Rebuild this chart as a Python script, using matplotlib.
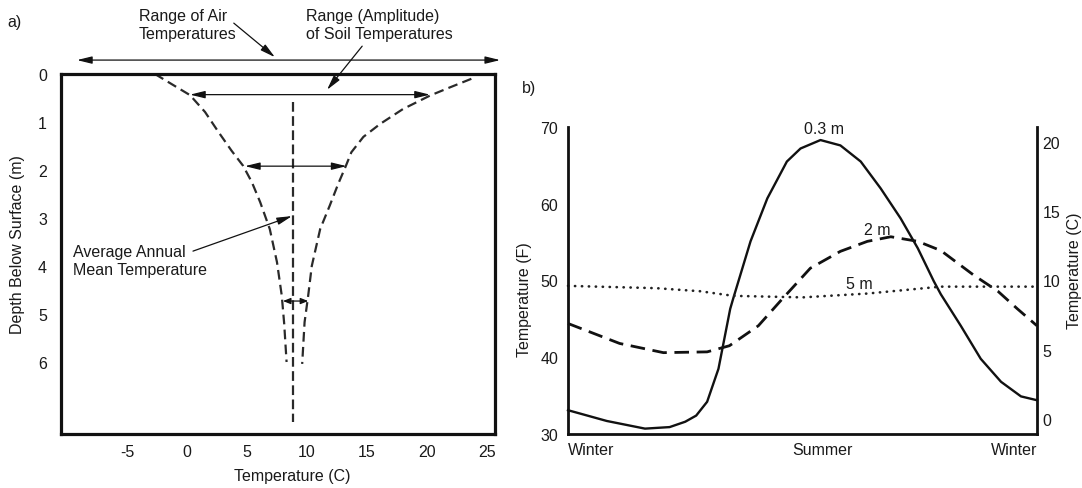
import matplotlib
matplotlib.use("Agg")
import matplotlib.pyplot as plt

plt.rcParams['font.family'] = ['Liberation Sans', 'DejaVu Sans']
plt.rcParams['lines.scale_dashes'] = False

W, H = 1082, 489

# ---------------- Panel a data (depth m, temperature C) ----------------
left_depth = [0.0, 0.21, 0.44, 0.79, 1.2, 1.6, 1.91, 2.25, 2.67, 3.23, 3.92,
              4.62, 5.2, 6.0]
left_temp = [-2.67, -1.28, 0.25, 1.5, 2.6, 3.72, 4.67, 5.4, 6.1, 6.9, 7.5,
             7.9, 8.1, 8.3]
right_depth = [0.1, 0.28, 0.45, 0.73, 1.04, 1.31, 1.63, 1.94, 2.29, 2.74, 3.23,
               4.0, 4.62, 5.17, 6.04]
right_temp = [23.7, 21.9, 20.25, 18.0, 16.1, 14.7, 13.7, 13.2, 12.6, 11.9,
              11.1, 10.4, 10.1, 9.8, 9.6]
mean_temp = 8.85
mean_depth = [0.59, 7.25]
a_xticks = [-5, 0, 5, 10, 15, 20, 25]
a_yticks = [0, 1, 2, 3, 4, 5, 6]

# ---------------- Panel b data (season index, temperature F) ----------------
t_03 = [0, 0.99, 1.97, 2.6, 3.0, 3.28, 3.56, 3.85, 4.15, 4.23, 4.67, 5.1, 5.6,
        5.95, 6.46, 6.97, 7.49, 8.0, 8.51, 8.95, 9.36, 9.54, 10.05, 10.56,
        11.08, 11.59, 12]
f_03 = [33.1, 31.7, 30.7, 30.9, 31.6, 32.4, 34.2, 38.5, 46.3, 47.7, 55.1, 60.7,
        65.5, 67.2, 68.3, 67.6, 65.5, 62.0, 58.1, 54.2, 49.9, 48.2, 44.1, 39.8,
        36.8, 34.9, 34.4]
t_2 = [0, 1.32, 2.44, 3.56, 4.13, 4.87, 5.43, 6.2, 6.97, 7.66, 8.26, 8.95,
       9.54, 10.38, 11.0, 11.5, 12]
f_2 = [44.4, 41.8, 40.6, 40.7, 41.5, 44.1, 47.3, 51.6, 53.8, 55.1, 55.7, 55.1,
       53.9, 50.7, 48.6, 46.3, 44.1]
t_5 = [0, 2.26, 3.38, 4.23, 6.0, 7.66, 9.54, 12]
f_5 = [49.3, 49.0, 48.6, 48.0, 47.8, 48.3, 49.2, 49.2]
season_pos = [0, 6.52, 12]
season_labels = ['Winter', 'Summer', 'Winter']
f_ticks = [30, 40, 50, 60, 70]
c_ticks = [0, 5, 10, 15, 20]

TXT = '#1a1a1a'
FS = 11.5

fig = plt.figure(figsize=(W / 100, H / 100), dpi=100)


def px_axes(l, t, r, b):
    return [l / W, 1 - b / H, (r - l) / W, (b - t) / H]


def ftext(x, y, s, **kw):
    fig.text(x / W, 1 - y / H, s, **kw)


# ================= Panel a =================
axa = fig.add_axes(px_axes(61, 75, 495, 435))
axa.set_xlim(-10.5, 25.67)
axa.set_ylim(7.5, 0)
for sp in axa.spines.values():
    sp.set_linewidth(2.3)
    sp.set_color('#111111')
axa.set_xticks(a_xticks)
axa.set_xticklabels([str(v) for v in a_xticks])
axa.set_yticks(a_yticks)
axa.tick_params(axis='both', length=0, labelsize=FS, labelcolor=TXT)
axa.tick_params(axis='x', pad=7)
axa.tick_params(axis='y', pad=10)

dash_a = (0, (7.0, 3.8))
axa.plot(left_temp, left_depth, color='#2a2a2a', lw=1.6, linestyle=dash_a)
axa.plot(right_temp, right_depth, color='#2a2a2a', lw=1.6, linestyle=dash_a)
axa.plot([mean_temp, mean_temp], mean_depth, color='#2a2a2a', lw=1.6,
         linestyle=(0, (7.0, 3.2)))

dbl = dict(arrowstyle='<|-|>,head_length=0.9,head_width=0.22', lw=0.9,
           color='#111111', shrinkA=0, shrinkB=0, mutation_scale=10)
one = dict(arrowstyle='-|>,head_length=0.9,head_width=0.22', lw=0.9,
           color='#111111', shrinkA=0, shrinkB=0, mutation_scale=10)

# range arrows
axa.annotate('', xy=(26.1, -0.29), xytext=(-9.17, -0.29), arrowprops=dbl,
             annotation_clip=False)
axa.annotate('', xy=(20.25, 0.43), xytext=(0.25, 0.43), arrowprops=dbl)
axa.annotate('', xy=(13.3, 1.92), xytext=(4.83, 1.92), arrowprops=dbl)
axa.annotate('', xy=(10.1, 4.73), xytext=(8.0, 4.73),
             arrowprops=dict(arrowstyle='<|-|>,head_length=0.45,head_width=0.18',
                             lw=0.9, color='#111111', shrinkA=0, shrinkB=0,
                             mutation_scale=10))

# pointer arrows
axa.annotate('', xy=(7.33, -0.35), xytext=(3.9, -1.06), arrowprops=one,
             annotation_clip=False)
axa.annotate('', xy=(11.67, 0.33), xytext=(14.6, -0.58), arrowprops=one,
             annotation_clip=False)
axa.annotate('', xy=(8.75, 2.96), xytext=(0.5, 3.69), arrowprops=one)

ftext(139, 25, 'Range of Air\nTemperatures', ha='left', va='center',
      fontsize=FS, color=TXT, linespacing=1.25)
ftext(306, 25, 'Range (Amplitude)\nof Soil Temperatures', ha='left',
      va='center', fontsize=FS, color=TXT, linespacing=1.25)
ftext(73, 262, 'Average Annual\nMean Temperature', ha='left', va='center',
      fontsize=FS, color=TXT, linespacing=1.25)
ftext(7, 22, 'a)', ha='left', va='center', fontsize=FS, color=TXT)
ftext(292, 477, 'Temperature (C)', ha='center', va='center', fontsize=FS,
      color=TXT)
ftext(18, 245, 'Depth Below Surface (m)', ha='center', va='center',
      rotation=90, fontsize=FS, color=TXT)

# ================= Panel b =================
axb = fig.add_axes(px_axes(568, 128, 1037, 435))
axb.set_xlim(0, 12)
axb.set_ylim(30, 70)
axb.spines['top'].set_visible(False)
axb.spines['right'].set_visible(False)
for k in ('left', 'bottom'):
    axb.spines[k].set_linewidth(2.0)
    axb.spines[k].set_color('#111111')
axb.set_yticks(f_ticks)
axb.set_xticks(season_pos)
axb.set_xticklabels(season_labels)
for lab, ha in zip(axb.get_xticklabels(), ['left', 'center', 'right']):
    lab.set_ha(ha)
axb.tick_params(axis='both', length=0, labelsize=FS, labelcolor=TXT)
axb.tick_params(axis='x', pad=6)
axb.tick_params(axis='y', pad=7)

axb.plot(t_03, f_03, color='#111111', lw=1.7, solid_joinstyle='round',
         clip_on=False)
axb.plot(t_2, f_2, color='#111111', lw=2.0, linestyle=(0, (10.5, 5.5)),
         clip_on=False)
axb.plot(t_5, f_5, color='#222222', lw=1.9, linestyle=(0, (0.2, 4.8)),
         dash_capstyle='round', clip_on=False)

axb.text(6.56, 69.8, '0.3 m', ha='center', va='center', fontsize=FS, color=TXT)
axb.text(7.9, 56.6, '2 m', ha='center', va='center', fontsize=FS, color=TXT)
axb.text(7.46, 49.6, '5 m', ha='center', va='center', fontsize=FS, color=TXT)

ax2 = axb.twinx()
ax2.set_ylim((30 - 32) / 1.8, (70 - 32) / 1.8)
for k in ('top', 'left', 'bottom'):
    ax2.spines[k].set_visible(False)
ax2.spines['right'].set_linewidth(2.0)
ax2.spines['right'].set_color('#111111')
ax2.set_yticks(c_ticks)
ax2.tick_params(axis='y', length=0, labelsize=FS, labelcolor=TXT, pad=4)

ftext(522, 88, 'b)', ha='left', va='center', fontsize=FS, color=TXT)
ftext(525, 300, 'Temperature (F)', ha='center', va='center', rotation=90,
      fontsize=FS, color=TXT)
ftext(1075, 271, 'Temperature (C)', ha='center', va='center', rotation=90,
      fontsize=FS, color=TXT)

fig.savefig('out.png', dpi=100, facecolor='white')
